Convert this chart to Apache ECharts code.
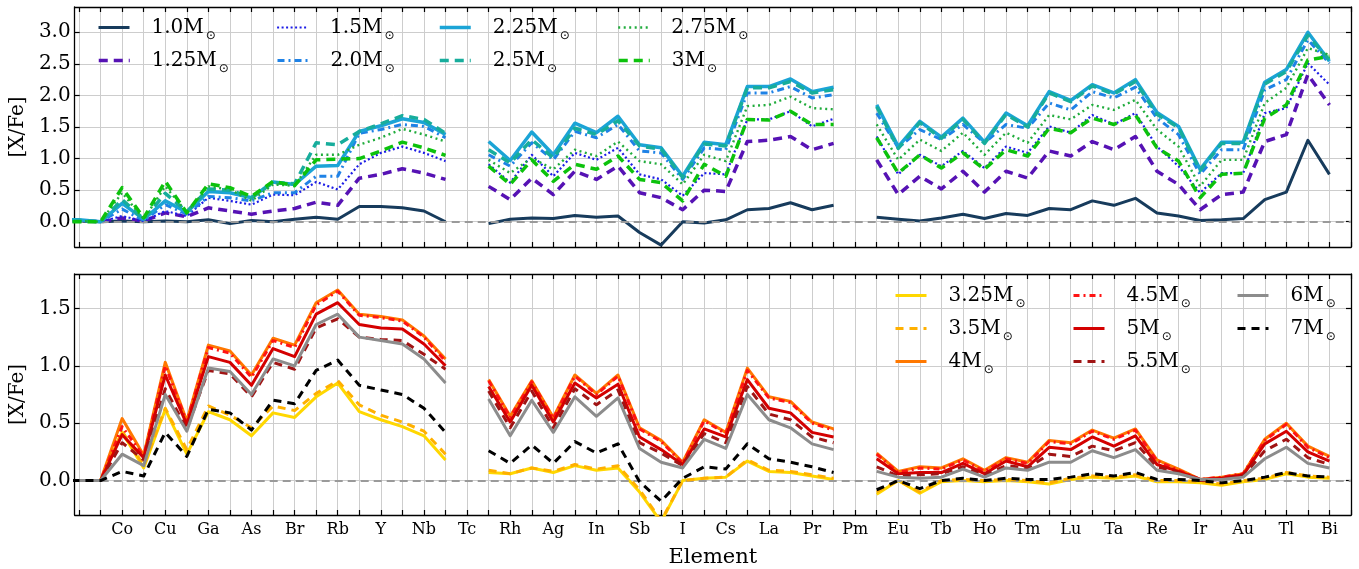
<!DOCTYPE html>
<html>
<head>
<meta charset="utf-8">
<script src="https://cdn.jsdelivr.net/npm/echarts@6.0.0/dist/echarts.min.js"></script>
<style>
  html, body { margin: 0; padding: 0; background: #ffffff; }
  #chart { width: 1359px; height: 569px; }
</style>
</head>
<body>
<div id="chart"></div>
<script>
// Elements from Cr (Z = 24) to Bi (Z = 83); Tc and Pm have no abundance (null breaks the line)
const firstZ = 24;
const elements = ['Cr','Mn','Fe','Co','Ni','Cu','Zn','Ga','Ge','As',
                  'Se','Br','Kr','Rb','Sr','Y','Zr','Nb','Mo','Tc',
                  'Ru','Rh','Pd','Ag','Cd','In','Sn','Sb','Te','I',
                  'Xe','Cs','Ba','La','Ce','Pr','Nd','Pm','Sm','Eu',
                  'Gd','Tb','Dy','Ho','Er','Tm','Yb','Lu','Hf','Ta',
                  'W','Re','Os','Ir','Pt','Au','Hg','Tl','Pb','Bi'];

// Labelled elements along the x axis
const tickLabels = ['Co','Cu','Ga','As','Br','Rb','Y','Nb','Tc','Rh','Ag','In','Sb','I','Cs',
                    'La','Pr','Pm','Eu','Tb','Ho','Tm','Lu','Ta','Re','Ir','Au','Tl','Bi'];

// y tick values of the two panels
const upperTicks = [0.0, 0.5, 1.0, 1.5, 2.0, 2.5, 3.0];
const lowerTicks = [0.0, 0.5, 1.0, 1.5];

// [X/Fe] of the low-mass models (upper panel)
const m1_0 = [0, 0.01, 0, 0.01, 0, 0.01, 0, 0.03, -0.03, 0.02,
  0, 0.04, 0.07, 0.04, 0.24, 0.24, 0.22, 0.17, 0.0, null,
  -0.03, 0.04, 0.06, 0.05, 0.1, 0.07, 0.09, -0.17, -0.37, 0.0,
  -0.02, 0.03, 0.19, 0.21, 0.3, 0.19, 0.26, null, 0.07, 0.04,
  0.01, 0.06, 0.12, 0.05, 0.13, 0.1, 0.21, 0.19, 0.33, 0.26,
  0.37, 0.14, 0.09, 0.02, 0.03, 0.05, 0.35, 0.47, 1.29, 0.75];
const m1_25 = [0, 0.01, 0, 0.06, 0.01, 0.14, 0.08, 0.22, 0.17, 0.12,
  0.17, 0.21, 0.31, 0.26, 0.69, 0.75, 0.84, 0.77, 0.67, null,
  0.56, 0.35, 0.69, 0.43, 0.8, 0.67, 0.88, 0.46, 0.38, 0.19,
  0.5, 0.48, 1.27, 1.29, 1.35, 1.14, 1.24, null, 0.98, 0.43,
  0.72, 0.52, 0.8, 0.47, 0.8, 0.69, 1.12, 1.04, 1.27, 1.14,
  1.35, 0.8, 0.59, 0.19, 0.43, 0.47, 1.27, 1.38, 2.33, 1.85];
const m1_5 = [0, 0.01, 0, 0.09, 0.01, 0.17, 0.09, 0.38, 0.33, 0.27,
  0.43, 0.42, 0.63, 0.51, 0.91, 1.09, 1.19, 1.09, 0.96, null,
  0.91, 0.62, 1.06, 0.72, 1.09, 0.98, 1.17, 0.75, 0.67, 0.41,
  0.77, 0.75, 1.62, 1.62, 1.75, 1.51, 1.63, null, 1.35, 0.75,
  1.06, 0.88, 1.12, 0.85, 1.19, 1.09, 1.51, 1.41, 1.69, 1.54,
  1.72, 1.19, 0.88, 0.46, 0.77, 0.77, 1.72, 1.8, 2.51, 2.17];
const m2_0 = [0, 0.02, 0, 0.2, 0.02, 0.27, 0.12, 0.4, 0.38, 0.33,
  0.46, 0.46, 0.72, 0.72, 1.4, 1.46, 1.54, 1.51, 1.33, null,
  1.06, 0.88, 1.25, 0.98, 1.43, 1.33, 1.54, 1.12, 1.09, 0.67,
  1.17, 1.14, 2.04, 2.04, 2.14, 1.96, 2.01, null, 1.72, 1.17,
  1.46, 1.3, 1.54, 1.25, 1.54, 1.48, 1.88, 1.77, 2.06, 1.96,
  2.13, 1.64, 1.38, 0.75, 1.14, 1.14, 2.09, 2.25, 2.88, 2.51];
const m2_25 = [0.03, 0.03, 0, 0.29, 0.04, 0.33, 0.15, 0.48, 0.46, 0.38,
  0.63, 0.59, 0.88, 0.89, 1.43, 1.52, 1.63, 1.57, 1.38, null,
  1.27, 0.97, 1.42, 1.06, 1.56, 1.41, 1.67, 1.22, 1.17, 0.72,
  1.26, 1.22, 2.14, 2.14, 2.26, 2.06, 2.13, null, 1.85, 1.19,
  1.59, 1.34, 1.64, 1.26, 1.72, 1.52, 2.06, 1.92, 2.17, 2.04,
  2.25, 1.73, 1.51, 0.83, 1.26, 1.26, 2.21, 2.41, 3.0, 2.54];
const m2_5 = [0.02, 0.02, 0, 0.35, 0.04, 0.45, 0.16, 0.52, 0.5, 0.38,
  0.62, 0.6, 1.25, 1.22, 1.43, 1.55, 1.68, 1.62, 1.4, null,
  1.14, 0.93, 1.3, 1.01, 1.48, 1.38, 1.6, 1.2, 1.15, 0.7,
  1.23, 1.2, 2.12, 2.12, 2.22, 2.04, 2.09, null, 1.82, 1.16,
  1.57, 1.32, 1.62, 1.24, 1.7, 1.5, 2.04, 1.9, 2.15, 2.02,
  2.22, 1.7, 1.49, 0.81, 1.24, 1.24, 2.18, 2.38, 2.95, 2.56];
const m2_75 = [0, 0.01, 0, 0.46, 0.04, 0.56, 0.15, 0.56, 0.51, 0.33,
  0.59, 0.57, 1.06, 1.06, 1.22, 1.33, 1.47, 1.38, 1.27, null,
  0.98, 0.77, 1.01, 0.83, 1.14, 1.04, 1.27, 0.96, 0.91, 0.59,
  1.06, 0.96, 1.83, 1.85, 1.98, 1.8, 1.78, null, 1.54, 0.98,
  1.3, 1.12, 1.41, 1.06, 1.41, 1.25, 1.69, 1.62, 1.85, 1.77,
  1.93, 1.46, 1.19, 0.56, 0.98, 0.98, 1.88, 2.12, 2.75, 2.64];
const m3 = [0, 0, 0, 0.54, 0.06, 0.64, 0.14, 0.6, 0.54, 0.4,
  0.64, 0.57, 0.98, 0.99, 1.0, 1.12, 1.26, 1.17, 1.05, null,
  0.88, 0.59, 0.98, 0.64, 0.91, 0.83, 1.04, 0.67, 0.62, 0.33,
  0.91, 0.72, 1.62, 1.61, 1.75, 1.54, 1.54, null, 1.33, 0.77,
  1.06, 0.85, 1.09, 0.83, 1.14, 1.04, 1.48, 1.41, 1.64, 1.54,
  1.69, 1.17, 0.96, 0.38, 0.75, 0.77, 1.64, 1.85, 2.56, 2.62];

// [X/Fe] of the intermediate-mass models (lower panel)
const m3_25 = [0, 0, 0, 0.42, 0.11, 0.62, 0.23, 0.6, 0.53, 0.39,
  0.59, 0.55, 0.73, 0.85, 0.6, 0.53, 0.47, 0.39, 0.18, null,
  0.07, 0.06, 0.11, 0.07, 0.13, 0.09, 0.11, -0.1, -0.36, 0.0,
  0.02, 0.03, 0.17, 0.08, 0.07, 0.04, 0.01, null, -0.12, 0.0,
  -0.11, -0.01, 0.0, -0.01, 0.0, -0.01, -0.03, 0.01, 0.03, 0.02,
  0.04, -0.01, -0.01, -0.02, -0.04, -0.01, 0.01, 0.06, 0.03, 0.02];
const m3_5 = [0, 0, 0, 0.43, 0.13, 0.63, 0.27, 0.65, 0.57, 0.46,
  0.65, 0.61, 0.76, 0.87, 0.66, 0.57, 0.51, 0.43, 0.23, null,
  0.09, 0.06, 0.11, 0.08, 0.14, 0.1, 0.13, -0.08, -0.35, 0.0,
  0.02, 0.03, 0.18, 0.09, 0.08, 0.05, 0.02, null, -0.1, 0.0,
  -0.1, 0.0, 0.01, 0.0, 0.01, 0.0, -0.02, 0.02, 0.04, 0.03,
  0.05, 0.0, 0.0, -0.01, -0.03, 0.0, 0.02, 0.07, 0.04, 0.03];
const m4 = [0, 0, 0, 0.54, 0.22, 1.03, 0.52, 1.18, 1.13, 0.92,
  1.24, 1.18, 1.55, 1.66, 1.45, 1.43, 1.4, 1.26, 1.06, null,
  0.88, 0.56, 0.87, 0.55, 0.92, 0.76, 0.92, 0.46, 0.35, 0.16,
  0.53, 0.42, 0.98, 0.73, 0.69, 0.51, 0.45, null, 0.24, 0.08,
  0.12, 0.11, 0.19, 0.09, 0.2, 0.16, 0.35, 0.33, 0.44, 0.37,
  0.45, 0.18, 0.1, 0.01, 0.03, 0.06, 0.36, 0.5, 0.3, 0.21];
const m4_5 = [0, 0, 0, 0.47, 0.21, 1.0, 0.51, 1.16, 1.11, 0.9,
  1.22, 1.16, 1.53, 1.65, 1.44, 1.42, 1.39, 1.25, 1.04, null,
  0.87, 0.55, 0.86, 0.54, 0.91, 0.75, 0.91, 0.45, 0.34, 0.15,
  0.52, 0.41, 0.96, 0.72, 0.68, 0.5, 0.44, null, 0.23, 0.07,
  0.11, 0.1, 0.18, 0.08, 0.19, 0.15, 0.34, 0.32, 0.43, 0.36,
  0.44, 0.17, 0.09, 0.01, 0.03, 0.06, 0.35, 0.49, 0.29, 0.2];
const m5 = [0, 0, 0, 0.4, 0.2, 0.92, 0.49, 1.08, 1.03, 0.83,
  1.15, 1.08, 1.45, 1.55, 1.36, 1.33, 1.32, 1.19, 1.0, null,
  0.82, 0.51, 0.83, 0.51, 0.85, 0.72, 0.84, 0.38, 0.27, 0.14,
  0.45, 0.38, 0.88, 0.63, 0.59, 0.42, 0.38, null, 0.19, 0.06,
  0.07, 0.07, 0.15, 0.06, 0.17, 0.12, 0.29, 0.27, 0.38, 0.3,
  0.39, 0.14, 0.08, 0.01, 0.02, 0.05, 0.32, 0.43, 0.25, 0.17];
const m5_5 = [0, 0, 0, 0.33, 0.18, 0.8, 0.45, 0.96, 0.93, 0.73,
  1.03, 0.97, 1.33, 1.41, 1.25, 1.23, 1.22, 1.1, 0.97, null,
  0.78, 0.46, 0.78, 0.46, 0.8, 0.66, 0.79, 0.33, 0.24, 0.13,
  0.41, 0.33, 0.82, 0.58, 0.53, 0.38, 0.33, null, 0.12, 0.04,
  0.05, 0.06, 0.12, 0.05, 0.13, 0.11, 0.23, 0.21, 0.3, 0.26,
  0.33, 0.12, 0.07, 0.0, 0.01, 0.04, 0.26, 0.36, 0.2, 0.14];
const m6 = [0, 0, 0, 0.23, 0.13, 0.75, 0.43, 0.98, 0.95, 0.75,
  1.06, 1.0, 1.36, 1.45, 1.25, 1.22, 1.19, 1.06, 0.85, null,
  0.71, 0.39, 0.7, 0.42, 0.73, 0.56, 0.72, 0.28, 0.16, 0.11,
  0.36, 0.28, 0.75, 0.53, 0.46, 0.32, 0.27, null, 0.08, 0.03,
  0.02, 0.03, 0.1, 0.03, 0.11, 0.09, 0.16, 0.16, 0.26, 0.2,
  0.27, 0.09, 0.06, 0.01, 0.01, 0.03, 0.19, 0.29, 0.15, 0.11];
const m7 = [0, 0, 0, 0.08, 0.04, 0.42, 0.21, 0.62, 0.59, 0.44,
  0.7, 0.67, 0.96, 1.05, 0.83, 0.79, 0.75, 0.63, 0.42, null,
  0.26, 0.15, 0.31, 0.15, 0.34, 0.24, 0.32, -0.01, -0.18, 0.02,
  0.12, 0.1, 0.32, 0.19, 0.16, 0.12, 0.07, null, -0.08, 0.0,
  -0.07, 0.0, 0.02, 0.0, 0.02, 0.01, 0.01, 0.03, 0.06, 0.04,
  0.07, 0.01, 0.01, 0.0, -0.02, 0.0, 0.03, 0.07, 0.04, 0.03];

// Series: name, values, panel (0 = upper, 1 = lower)
const models = [
  ['1.0M', m1_0, 0], ['1.25M', m1_25, 0], ['1.5M', m1_5, 0], ['2.0M', m2_0, 0],
  ['2.25M', m2_25, 0], ['2.5M', m2_5, 0], ['2.75M', m2_75, 0], ['3M', m3, 0],
  ['3.25M', m3_25, 1], ['3.5M', m3_5, 1], ['4M', m4, 1], ['4.5M', m4_5, 1],
  ['5M', m5, 1], ['5.5M', m5_5, 1], ['6M', m6, 1], ['7M', m7, 1]
];

// Line styles per model
const lineStyles = {
  '1.0M':  { color: '#173b5c', type: 'solid',      width: 3 },
  '1.25M': { color: '#5612b4', type: [9, 6],       width: 3.5 },
  '1.5M':  { color: '#1c1ce6', type: [2, 2.5],     width: 2.2 },
  '2.0M':  { color: '#1f82e6', type: [7, 4, 2, 4], width: 3 },
  '2.25M': { color: '#1ba4d6', type: 'solid',      width: 3.5 },
  '2.5M':  { color: '#17ad9c', type: [9, 6],       width: 3.5 },
  '2.75M': { color: '#20ac3c', type: [2, 3.5],     width: 2.4 },
  '3M':    { color: '#0cc20c', type: [9, 6],       width: 3.5 },
  '3.25M': { color: '#ffd700', type: 'solid',      width: 3 },
  '3.5M':  { color: '#ffb000', type: [8, 6],       width: 3 },
  '4M':    { color: '#ff7800', type: 'solid',      width: 3 },
  '4.5M':  { color: '#ff1414', type: [6, 4, 2, 4], width: 3 },
  '5M':    { color: '#d40000', type: 'solid',      width: 3 },
  '5.5M':  { color: '#a01414', type: [8, 6],       width: 3 },
  '6M':    { color: '#8c8c8c', type: 'solid',      width: 3 },
  '7M':    { color: '#000000', type: [8, 6],       width: 3 }
};

// Legend layout: model name, handle left edge, row centre
const legendLayout = [
  ['1.0M', 97, 33], ['1.25M', 97, 66], ['1.5M', 276, 33], ['2.0M', 276, 66],
  ['2.25M', 438, 33], ['2.5M', 438, 66], ['2.75M', 617, 33], ['3M', 617, 66],
  ['3.25M', 894, 301], ['3.5M', 894, 334], ['4M', 894, 367],
  ['4.5M', 1072, 301], ['5M', 1072, 334], ['5.5M', 1072, 367],
  ['6M', 1236, 301], ['7M', 1236, 334]
];

const FONT = 'DejaVu Serif';
const X_MIN = 24.8, X_MAX = 84.0;
const zTicks = [];
for (let z = 25; z <= 84; z++) zTicks.push(z);
const zLabelValues = tickLabels.map(s => firstZ + elements.indexOf(s));
const symbolAt = z => elements[Math.round(z) - firstZ] || '';

const axisLine = { show: true, onZero: false, lineStyle: { color: '#000', width: 1.3 } };
const gridLine = { show: true, lineStyle: { color: '#cdcdcd', width: 1 } };

function xAxisFor(gridIndex, position, withLabels) {
  const ax = {
    type: 'value', gridIndex, position, min: X_MIN, max: X_MAX,
    axisLine,
    axisTick: { show: true, inside: true, length: 5, customValues: zTicks, lineStyle: { color: '#000', width: 1.2 } },
    axisLabel: { show: false },
    splitLine: position === 'bottom' ? gridLine : { show: false }
  };
  if (withLabels) {
    ax.axisLabel = {
      show: true, customValues: zLabelValues, formatter: v => symbolAt(v),
      fontFamily: FONT, fontSize: 16, color: '#000', margin: 7
    };
    ax.name = 'Element';
    ax.nameLocation = 'middle';
    ax.nameGap = 32;
    ax.nameTextStyle = { fontFamily: FONT, fontSize: 21, color: '#000' };
  }
  return ax;
}

function yAxisFor(gridIndex, position, min, max, ticks) {
  const ax = {
    type: 'value', gridIndex, position, min, max,
    axisLine,
    axisTick: { show: true, inside: true, length: 5, customValues: ticks, lineStyle: { color: '#000', width: 1.2 } },
    axisLabel: { show: false },
    splitLine: position === 'left' ? gridLine : { show: false }
  };
  if (position === 'left') {
    ax.axisLabel = {
      show: true, customValues: ticks, formatter: v => v.toFixed(1),
      fontFamily: FONT, fontSize: 20, color: '#000', margin: 4
    };
    ax.name = '[X/Fe]';
    ax.nameLocation = 'middle';
    ax.nameGap = 44;
    ax.nameRotate = 90;
    ax.nameTextStyle = { fontFamily: FONT, fontSize: 20, color: '#000' };
  }
  return ax;
}

const series = models.map(([name, values, panel], i) => {
  const st = lineStyles[name];
  const s = {
    name, type: 'line',
    xAxisIndex: panel * 2, yAxisIndex: panel * 2,
    data: values.map((v, k) => [firstZ + k, v === null ? '-' : v]),
    showSymbol: false, symbol: 'none', connectNulls: false, clip: true,
    lineStyle: { color: st.color, type: st.type, width: st.width, cap: 'butt', join: 'round' },
    itemStyle: { color: st.color },
    emphasis: { disabled: true },
    z: 3 + i
  };
  // dashed reference line at [X/Fe] = 0, one per panel
  if (i === 0 || i === 8) {
    s.markLine = {
      silent: true, symbol: ['none', 'none'], label: { show: false },
      lineStyle: { color: '#9a9a9a', type: [8, 5], width: 1.8 },
      emphasis: { disabled: true },
      data: [{ yAxis: 0 }]
    };
    s.z = 2;
  }
  return s;
});

// one legend entry per model, laid out as the columns of the two legend blocks;
// the line-series marker dot is hidden so only the line handle shows
const legends = legendLayout.map(([name, left, cy]) => ({
  data: [name], left, top: cy - 15.5, padding: 0,
  itemWidth: 31, itemHeight: 14, selectedMode: false,
  itemStyle: { opacity: 0, borderWidth: 0 },
  lineStyle: { width: 'inherit', type: 'inherit', color: 'inherit' },
  formatter: n => `{n|${n}}{s|\u2299}`,
  textStyle: {
    rich: {
      n: { fontFamily: FONT, fontSize: 20, color: '#000', padding: [0, 0, 0, 17] },
      s: { fontFamily: 'DejaVu Sans', fontSize: 12, color: '#000', padding: [17, 0, 0, 2] }
    }
  }
}));

const option = {
  animation: false,
  backgroundColor: '#ffffff',
  textStyle: { fontFamily: FONT },
  grid: [
    { left: 74, right: 8, top: 7, height: 240 },
    { left: 74, right: 8, top: 274, height: 244 }
  ],
  xAxis: [
    xAxisFor(0, 'bottom', false), xAxisFor(0, 'top', false),
    xAxisFor(1, 'bottom', true), xAxisFor(1, 'top', false)
  ],
  yAxis: [
    yAxisFor(0, 'left', -0.4, 3.4, upperTicks), yAxisFor(0, 'right', -0.4, 3.4, upperTicks),
    yAxisFor(1, 'left', -0.3, 1.8, lowerTicks), yAxisFor(1, 'right', -0.3, 1.8, lowerTicks)
  ],
  legend: legends,
  series
};

const chart = echarts.init(document.getElementById('chart'), null, { renderer: 'canvas' });
chart.setOption(option);
</script>
</body>
</html>
